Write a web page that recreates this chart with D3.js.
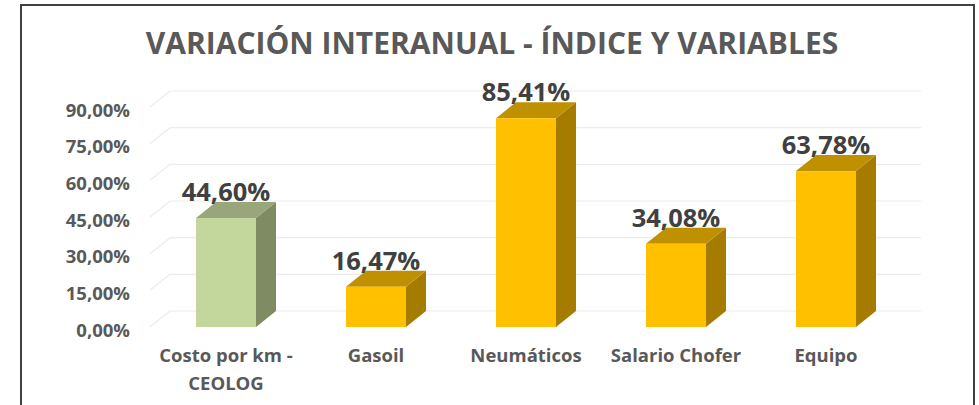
<!DOCTYPE html>
<html>
<head>
<meta charset="utf-8">
<script src="https://cdn.jsdelivr.net/npm/d3@7"></script>
<style>
  html, body { margin: 0; padding: 0; background: #fff; }
  svg { display: block; }
  text { font-family: "Open Sans", "Noto Sans", sans-serif; font-weight: bold; }
</style>
</head>
<body>
<script>
const title = "VARIACIÓN INTERANUAL - ÍNDICE Y VARIABLES";
const categories = ["Costo por km - CEOLOG", "Gasoil", "Neumáticos", "Salario Chofer", "Equipo"];
const categoryLines = [["Costo por km -", "CEOLOG"], ["Gasoil"], ["Neumáticos"], ["Salario Chofer"], ["Equipo"]];
const values = [44.60, 16.47, 85.41, 34.08, 63.78];
const valueLabels = ["44,60%", "16,47%", "85,41%", "34,08%", "63,78%"];
const tickValues = [0, 15, 30, 45, 60, 75, 90];
const tickLabels = ["0,00%", "15,00%", "30,00%", "45,00%", "60,00%", "75,00%", "90,00%"];

const W = 979, H = 405;
const svg = d3.select("body").append("svg").attr("width", W).attr("height", H);

// frame
svg.append("path").attr("d", "M21,405 L21,5 L974,5 L974,405")
  .attr("fill", "none").attr("stroke", "#404040").attr("stroke-width", 2);

// title
svg.append("text").attr("x", 492).attr("y", 54).attr("text-anchor", "middle")
  .attr("font-size", 30).attr("fill", "#595959").text(title);

const dx = 20, dy = -16;
const y = d3.scaleLinear().domain([0, 90]).range([327, 107]);
const x = d3.scaleBand().domain(categories).range([151, 901]).paddingInner(0.6).paddingOuter(0.3);

// gridlines (back wall + side wall diagonals)
const grid = svg.append("g");
tickValues.forEach(v => {
  grid.append("line").attr("x1", 150 + dx).attr("x2", 901 + dx)
    .attr("y1", y(v) + dy).attr("y2", y(v) + dy)
    .attr("stroke", "#ececec").attr("stroke-width", 1.2);
  grid.append("line").attr("x1", 150).attr("x2", 150 + dx)
    .attr("y1", y(v)).attr("y2", y(v) + dy)
    .attr("stroke", "#ececec").attr("stroke-width", 1.2);
});

// y tick labels
svg.append("g").selectAll("text").data(tickValues).join("text")
  .attr("x", 130).attr("y", v => y(v) + 2)
  .attr("text-anchor", "end").attr("dominant-baseline", "central")
  .attr("font-size", 18.5).attr("fill", "#595959")
  .text((v, i) => tickLabels[i]);

const colors = [
  { front: "#C3D69B", top: "#99A67A", side: "#7F8B62" },
  { front: "#FFC000", top: "#BF9000", side: "#A67C00" }
];

const bars = svg.append("g");
categories.forEach((c, i) => {
  const col = i === 0 ? colors[0] : colors[1];
  const x0 = x(c), bw = x.bandwidth();
  const yt = y(values[i]), yb = y(0);
  // side
  bars.append("path")
    .attr("d", `M${x0 + bw},${yt} L${x0 + bw + dx},${yt + dy} L${x0 + bw + dx},${yb + dy} L${x0 + bw},${yb} Z`)
    .attr("fill", col.side);
  // top
  bars.append("path")
    .attr("d", `M${x0},${yt} L${x0 + dx},${yt + dy} L${x0 + bw + dx},${yt + dy} L${x0 + bw},${yt} Z`)
    .attr("fill", col.top);
  // front
  bars.append("rect").attr("x", x0).attr("y", yt).attr("width", bw).attr("height", yb - yt)
    .attr("fill", col.front);
  // value label
  svg.append("text").attr("x", x0 + bw / 2).attr("y", yt + dy - 1)
    .attr("text-anchor", "middle").attr("font-size", 25.5).attr("fill", "#404040")
    .text(valueLabels[i]);
  // category label
  const t = svg.append("text").attr("text-anchor", "middle")
    .attr("font-size", 18.5).attr("fill", "#595959");
  categoryLines[i].forEach((ln, j) => {
    t.append("tspan").attr("x", x0 + bw / 2).attr("y", 362 + j * 28).text(ln);
  });
});
</script>
</body>
</html>
